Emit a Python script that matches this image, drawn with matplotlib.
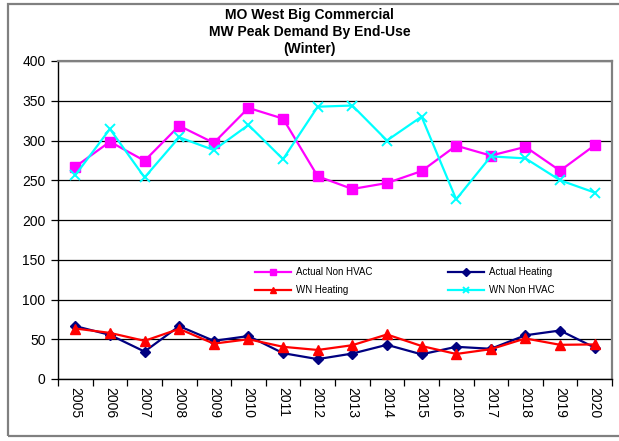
import matplotlib
matplotlib.use("Agg")
import matplotlib.pyplot as plt
from matplotlib.patches import Rectangle
from matplotlib.ticker import FixedLocator, NullFormatter

plt.rcParams['font.family'] = ['Liberation Sans', 'DejaVu Sans']

years = [str(y) for y in range(2005, 2021)]
actual_non_hvac = [267, 298.5, 274.5, 318.5, 297, 341, 327.5, 255, 239, 246.5, 261.5, 293.5, 281, 292, 262, 294]
actual_heating = [66.5, 55.5, 34.5, 66.5, 48, 54, 32.5, 25, 32, 43, 31, 40.5, 38, 55, 61, 39.5]
wn_heating = [63.5, 58, 48, 63, 44.5, 50, 40.5, 36.5, 42.5, 56, 41.5, 31.5, 37.5, 51, 43, 43.5]
wn_non_hvac = [256.5, 314.5, 253.5, 304, 288, 319.5, 276.5, 342.5, 344, 300, 330, 226, 280, 277.5, 250, 234.5]

W, H = 619, 441
fig = plt.figure(figsize=(W / 100, H / 100), dpi=100)
ax = fig.add_axes([58 / W, (H - 379) / H, (612 - 58) / W, (379 - 61) / H])

x = list(range(len(years)))
l_anh, = ax.plot(x, actual_non_hvac, color='#FF00FF', lw=1.6, marker='s', ms=7.5,
                 label='Actual Non HVAC', zorder=3)
l_ah, = ax.plot(x, actual_heating, color='#000080', lw=1.6, marker='D', ms=5.5,
                label='Actual Heating', zorder=3)
l_wh, = ax.plot(x, wn_heating, color='#FF0000', lw=1.6, marker='^', ms=7.5,
                label='WN Heating', zorder=4)
l_wnh, = ax.plot(x, wn_non_hvac, color='#00FFFF', lw=1.6, marker='x', ms=7.5, mew=1.4,
                 label='WN Non HVAC', zorder=4)

ax.set_xlim(-0.5, len(years) - 0.5)
ax.set_ylim(0, 400)
ax.set_yticks(range(0, 401, 50))
ax.yaxis.grid(True, color='black', lw=0.9)
ax.set_axisbelow(True)

ax.set_xticks(x)
ax.set_xticklabels(years, rotation=270, fontsize=10)
ax.xaxis.set_minor_locator(FixedLocator([i - 0.5 for i in range(len(years) + 1)]))
ax.xaxis.set_minor_formatter(NullFormatter())
ax.tick_params(axis='x', which='major', length=0, pad=6)
ax.tick_params(axis='x', which='minor', length=5, width=0.9, direction='out')
ax.tick_params(axis='y', length=5, width=0.9, labelsize=10, pad=4)

for side in ('top', 'right'):
    ax.spines[side].set_color('#808080')
    ax.spines[side].set_linewidth(1.6)
for side in ('left', 'bottom'):
    ax.spines[side].set_color('black')
    ax.spines[side].set_linewidth(1.0)

# two-column legend, filled column by column
leg = ax.legend(handles=[l_anh, l_wh, l_ah, l_wnh], ncol=2, frameon=False, fontsize=7,
                loc='upper left', bbox_to_anchor=(255 / W, (H - 267) / H),
                bbox_transform=fig.transFigure, borderaxespad=0, borderpad=0,
                handlelength=3.7, handletextpad=0.5, columnspacing=7.8,
                labelspacing=0.85)
for h in leg.legend_handles:
    h.set_markersize(4.5)

fig.text(0.5, 1 - 8.5 / H, 'MO West Big Commercial\nMW Peak Demand By End-Use\n(Winter)',
         ha='center', va='top', fontsize=10, fontweight='bold', linespacing=1.25)

fig.patches.append(Rectangle((8 / W, (H - 436) / H), 1.0, (436 - 3.5) / H,
                             transform=fig.transFigure, fill=False,
                             edgecolor='#808080', lw=1.6))

fig.savefig('out.png', dpi=100)
